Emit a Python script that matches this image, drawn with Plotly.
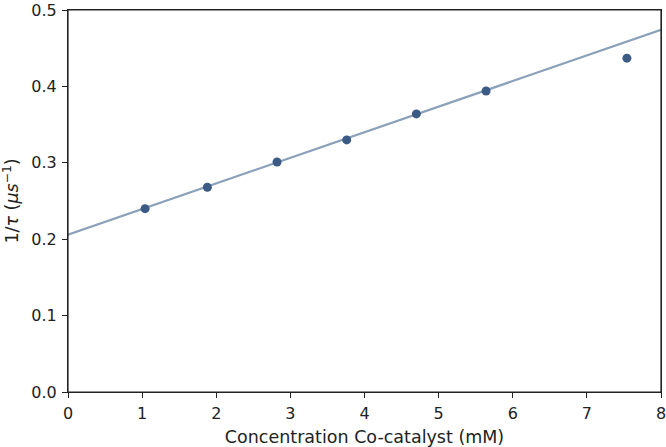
import plotly.graph_objects as go

conc = [1.04, 1.88, 2.82, 3.76, 4.70, 5.64, 7.54]
inv_tau = [0.240, 0.268, 0.301, 0.330, 0.364, 0.394, 0.437]
fit_x = [0, 8]
fit_y = [0.206, 0.474]

x_ticks = [0, 1, 2, 3, 4, 5, 6, 7, 8]
y_ticks = [0.0, 0.1, 0.2, 0.3, 0.4, 0.5]

FONT = "DejaVu Sans"

fig = go.Figure()
fig.add_trace(go.Scatter(x=fit_x, y=fit_y, mode="lines",
                         line=dict(color="#8ba1ba", width=2.2), showlegend=False))
fig.add_trace(go.Scatter(x=conc, y=inv_tau, mode="markers",
                         marker=dict(color="#3b5b84", size=9), showlegend=False))

axis_common = dict(showline=True, linecolor="#222", linewidth=1.2, mirror=True,
                   ticks="outside", ticklen=5, tickcolor="#222", tickwidth=1.2,
                   showgrid=False, zeroline=False, automargin=False,
                   ticklabeloverflow="allow", ticklabelstandoff=2,
                   tickfont=dict(family=FONT, size=16, color="#222"))

fig.update_xaxes(range=[0, 8], tickvals=x_ticks, ticktext=[str(v) for v in x_ticks],
                 title=dict(text="Concentration Co-catalyst (mM)",
                            font=dict(family=FONT, size=17.5, color="#222"), standoff=8),
                 **axis_common)
fig.update_yaxes(range=[0, 0.5], tickvals=y_ticks, ticktext=[f"{v:.1f}" for v in y_ticks],
                 title=dict(text="1/<i>τ</i> (<i>μs</i><sup>−1</sup>)",
                            font=dict(family=FONT, size=17.5, color="#222"), standoff=10),
                 **axis_common)

fig.add_shape(type="rect", xref="paper", yref="paper", x0=0, y0=0, x1=1, y1=1,
              line=dict(color="#222", width=1.2), layer="above")

fig.update_layout(width=666, height=447, plot_bgcolor="white", paper_bgcolor="white",
                  margin=dict(l=68, r=5, t=10, b=55), font=dict(family=FONT))

fig.write_html("out.html")
